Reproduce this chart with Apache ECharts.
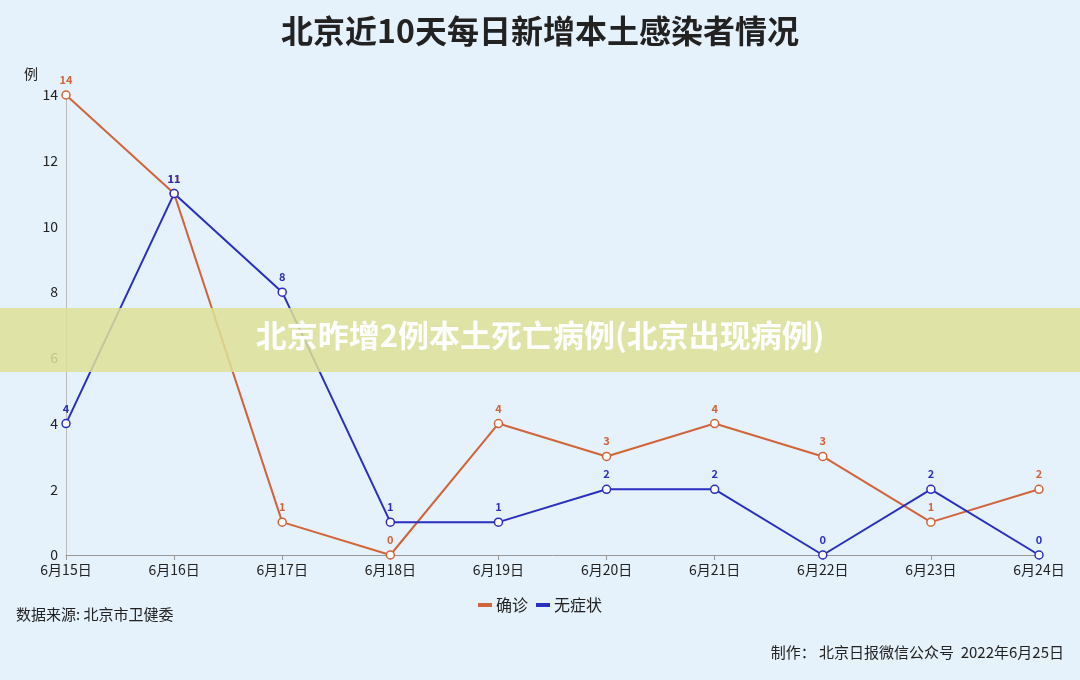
<!DOCTYPE html>
<html><head><meta charset="utf-8">
<script src="https://cdn.jsdelivr.net/npm/echarts@6/dist/echarts.min.js"></script>
<style>html,body{margin:0;padding:0;background:#e5f1fb}#c{width:1080px;height:680px}</style>
</head><body><div id="c"></div>
<script>
const categories=['6月15日','6月16日','6月17日','6月18日','6月19日','6月20日','6月21日','6月22日','6月23日','6月24日'];
const confirmed=[14,11,1,0,4,3,4,3,1,2];
const asymptomatic=[4,11,8,1,1,2,2,0,2,0];
const F='"Noto Sans CJK SC","Noto Sans",sans-serif';
const chart=echarts.init(document.getElementById('c'));
function s(name,data,color){return {name,type:'line',data,symbol:'circle',symbolSize:8,
 itemStyle:{color:'#fff',borderColor:color,borderWidth:1.5},lineStyle:{color,width:2},
 label:{show:true,position:'top',color,fontSize:11,fontWeight:'bold',fontFamily:F}};}
chart.setOption({
 backgroundColor:'#e5f1fb',
 color:['#d0643a','#2a2fbf'],
 title:{text:'北京近10天每日新增本土感染者情况',left:'center',top:10,textStyle:{fontSize:32,fontWeight:'bold',color:'#222',fontFamily:F}},
 legend:{bottom:62,left:'center',itemWidth:12,itemHeight:8,icon:'path://M0,4L12,4L12,6L0,6Z',textStyle:{fontSize:16,color:'#222',fontFamily:F},
  data:[{name:'确诊',itemStyle:{color:'#d0643a'}},{name:'无症状',itemStyle:{color:'#2a2fbf'}}]},
 grid:{left:66,right:41,top:95,bottom:125},
 xAxis:{type:'category',data:categories,boundaryGap:false,axisLine:{lineStyle:{color:'#999'}},axisTick:{show:true,alignWithLabel:true,lineStyle:{color:'#999'}},
  axisLabel:{color:'#222',fontSize:14,fontFamily:F,margin:8}},
 yAxis:{type:'value',min:0,max:14,interval:2,name:'例',nameGap:14,nameLocation:'end',nameTextStyle:{color:'#222',fontSize:14,align:'right',padding:[0,28,0,0],fontFamily:F},
  axisLine:{show:true,lineStyle:{color:'#bbb'}},splitLine:{show:false},axisLabel:{color:'#222',fontSize:14,fontFamily:F}},
 series:[s('确诊',confirmed,'#d0643a'),s('无症状',asymptomatic,'#2a2fbf')],
 graphic:[
  {type:'text',left:16,top:607,style:{text:'数据来源: 北京市卫健委',fontSize:15,fill:'#222',fontFamily:F}},
  {type:'text',right:16,top:645,style:{text:'制作： 北京日报微信公众号  2022年6月25日',fontSize:15,fill:'#222',fontFamily:F}},
  {type:'rect',left:0,top:308,shape:{width:1080,height:64},style:{fill:'rgba(222,224,150,0.85)'},z:100},
  {type:'text',left:'center',top:320,z:101,style:{text:'北京昨增2例本土死亡病例(北京出现病例)',fontSize:31,fontWeight:'bold',fill:'#fff',fontFamily:F}}
 ]
});
</script></body></html>
